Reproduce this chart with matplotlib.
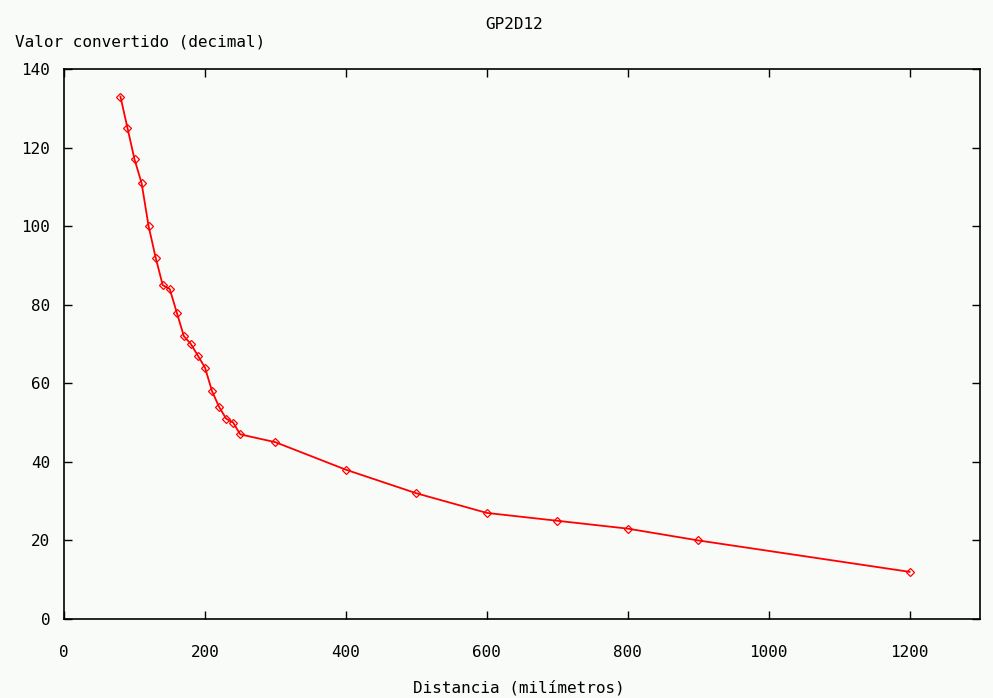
import matplotlib
matplotlib.use("Agg")
import matplotlib.pyplot as plt

distancia = [80, 90, 100, 110, 120, 130, 140, 150, 160, 170, 180, 190, 200,
             210, 220, 230, 240, 250, 300, 400, 500, 600, 700, 800, 900, 1200]
valor = [133, 125, 117, 111, 100, 92, 85, 84, 78, 72, 70, 67, 64,
         58, 54, 51, 50, 47, 45, 38, 32, 27, 25, 23, 20, 12]
xticks = [0, 200, 400, 600, 800, 1000, 1200]
yticks = [0, 20, 40, 60, 80, 100, 120, 140]

bg = "#f8fbf8"
plt.rcParams['font.family'] = ['DejaVu Sans Mono']
fig = plt.figure(figsize=(9.93, 6.98), dpi=100, facecolor=bg)
ax = fig.add_axes([0.0645, 0.1132, 0.9225, 0.7879], facecolor=bg)

ax.plot(distancia, valor, color="#ff0000", lw=1.3, marker="D", ms=4,
        mfc="none", mec="#ff0000", mew=0.9)

ax.set_xlim(0, 1300)
ax.set_ylim(0, 140)
ax.set_xticks(xticks)
ax.set_yticks(yticks)
ax.tick_params(direction="in", length=6, width=1, top=True, right=True,
               labelsize=11.5)
ax.tick_params(axis="x", pad=19)
ax.tick_params(axis="y", pad=10)
for s in ax.spines.values():
    s.set_linewidth(1.2)
    s.set_color("black")

fig.text(0.518, 0.965, "GP2D12", ha="center", va="center", fontsize=11.5)
fig.text(0.015, 0.94, "Valor convertido (decimal)", ha="left", va="center", fontsize=11.5)
fig.text(0.523, 0.014, "Distancia (milímetros)", ha="center", va="center", fontsize=11.5)

fig.savefig("out.png", dpi=100, facecolor=bg)
